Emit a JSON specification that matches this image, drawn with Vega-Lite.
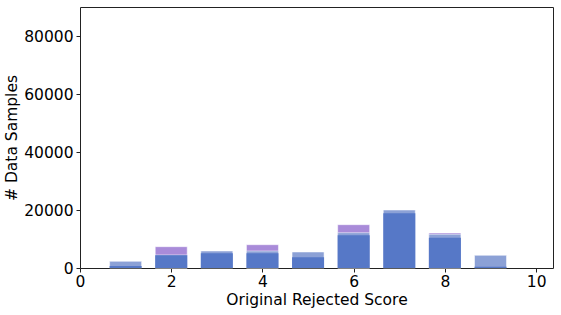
{
  "$schema": "https://vega.github.io/schema/vega-lite/v6.json",
  "autosize": "none",
  "width": 473,
  "height": 261,
  "padding": {"left": 80, "top": 7, "right": 8, "bottom": 47},
  "config": {
    "font": "DejaVu Sans",
    "view": {"stroke": "#222", "strokeWidth": 1},
    "axis": {
      "grid": false,
      "domain": false,
      "tickColor": "#222",
      "tickSize": 4,
      "labelFontSize": 15.5,
      "labelColor": "#000",
      "titleFontSize": 15.5,
      "titleFontWeight": "normal",
      "titleColor": "#000",
      "labelFont": "DejaVu Sans",
      "titleFont": "DejaVu Sans"
    }
  },
  "data": {
    "values": [
      {"score": 2, "series": "P", "count": 7350},
      {"score": 4, "series": "P", "count": 8030},
      {"score": 6, "series": "P", "count": 14940},
      {"score": 8, "series": "P", "count": 12070},
      {"score": 1, "series": "L", "count": 2300},
      {"score": 2, "series": "L", "count": 4500},
      {"score": 3, "series": "L", "count": 5860},
      {"score": 4, "series": "L", "count": 5860},
      {"score": 5, "series": "L", "count": 5520},
      {"score": 6, "series": "L", "count": 12180},
      {"score": 7, "series": "L", "count": 20000},
      {"score": 8, "series": "L", "count": 11600},
      {"score": 9, "series": "L", "count": 4370},
      {"score": 1, "series": "D", "count": 700},
      {"score": 2, "series": "D", "count": 4380},
      {"score": 3, "series": "D", "count": 5060},
      {"score": 4, "series": "D", "count": 5060},
      {"score": 5, "series": "D", "count": 3680},
      {"score": 6, "series": "D", "count": 11270},
      {"score": 7, "series": "D", "count": 18850},
      {"score": 8, "series": "D", "count": 10460},
      {"score": 9, "series": "D", "count": 450}
    ]
  },
  "encoding": {
    "x": {
      "field": "score",
      "type": "quantitative",
      "scale": {"domain": [0, 10.37], "nice": false, "zero": false, "padding": 0},
      "axis": {"values": [0, 2, 4, 6, 8, 10], "format": "d", "title": "Original Rejected Score", "labelPadding": 2, "titlePadding": 3, "labelFlush": false}
    },
    "y": {
      "field": "count",
      "type": "quantitative",
      "stack": null,
      "scale": {"domain": [0, 90000], "nice": false},
      "axis": {"values": [0, 20000, 40000, 60000, 80000], "format": "d", "title": "# Data Samples", "labelPadding": 3, "titlePadding": 4, "labelFlush": false}
    }
  },
  "layer": [
    {
      "transform": [{"filter": "datum.series === 'P'"}],
      "mark": {"type": "bar", "width": 32, "color": "#a98bd9", "stroke": "#ffffff", "strokeWidth": 1, "strokeOpacity": 0.5}
    },
    {
      "transform": [{"filter": "datum.series === 'L'"}],
      "mark": {"type": "bar", "width": 32, "color": "#8ca1d6", "stroke": "#ffffff", "strokeWidth": 1, "strokeOpacity": 0.5}
    },
    {
      "transform": [{"filter": "datum.series === 'D'"}],
      "mark": {"type": "bar", "width": 32, "color": "#5678c7"}
    }
  ]
}
